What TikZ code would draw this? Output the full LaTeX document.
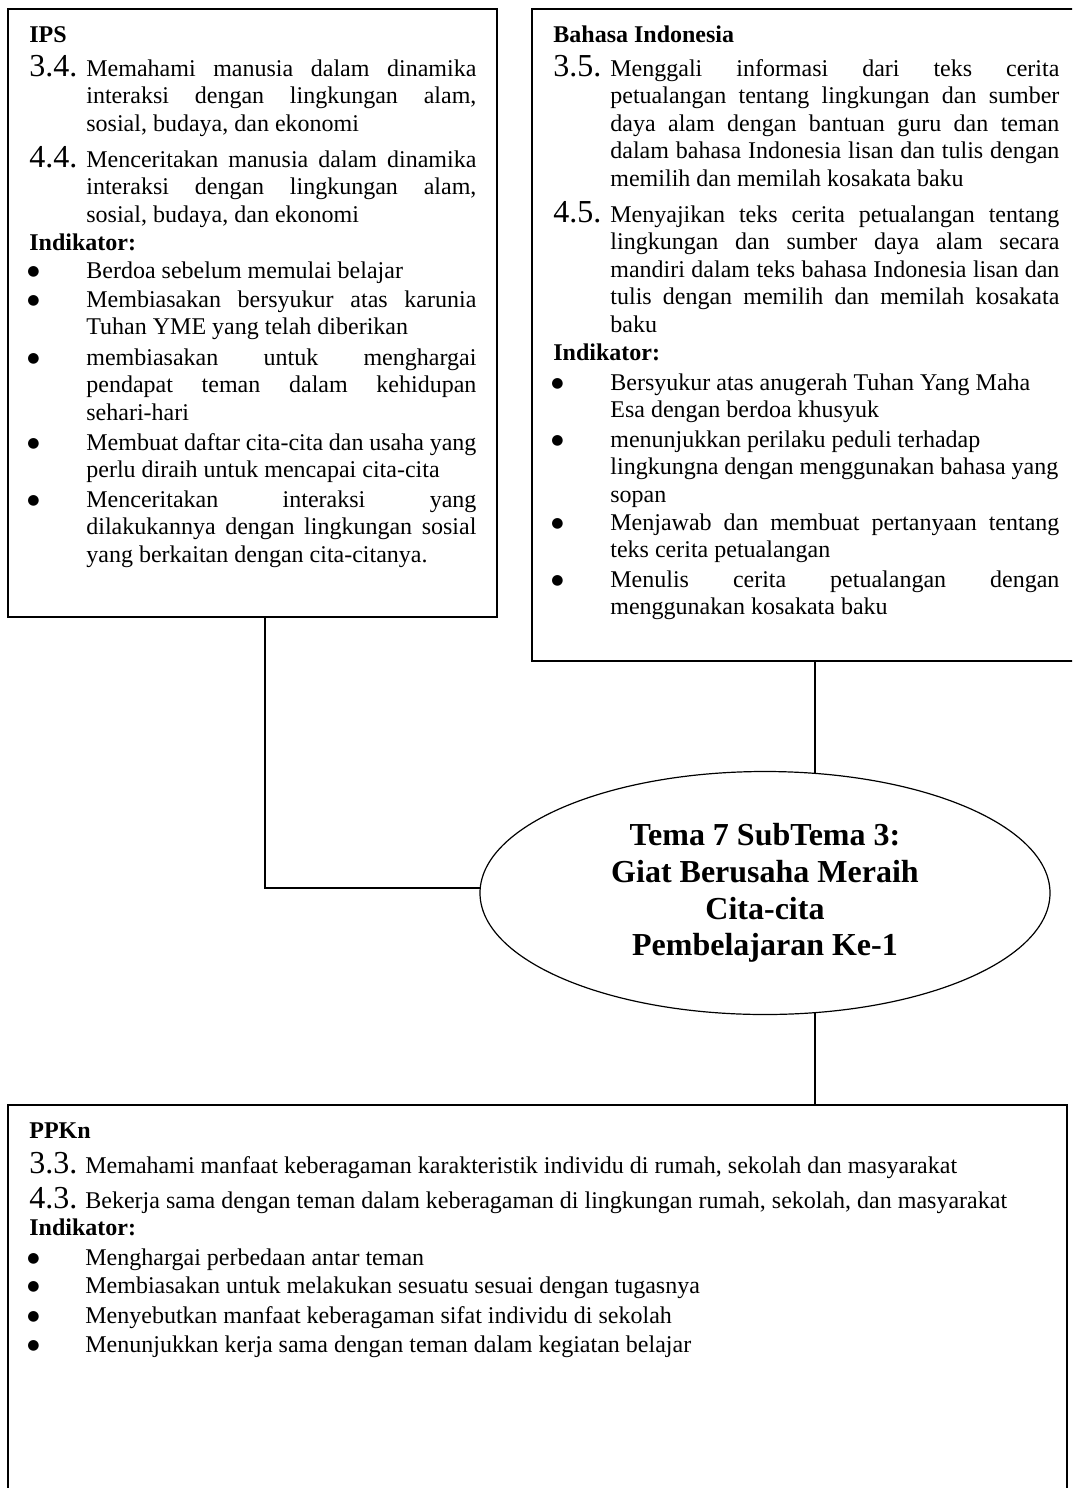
\documentclass[tikz,border=0pt]{standalone}
\usepackage{fontspec}
\setmainfont{Liberation Serif}
\newfontfamily\bulfont{DejaVu Sans}
\usetikzlibrary{shapes.geometric}
\begin{document}
\begin{tikzpicture}[x=0.5pt,y=-0.5pt,
  boxr/.style={draw, line width=1pt, rectangle, inner sep=0pt, outer sep=0pt},
  conn/.style={draw, line width=0.6pt},
  hd/.style={anchor=base west, inner sep=0pt, font=\fontsize{12}{13.75}\selectfont\bfseries},
  num/.style={anchor=base west, inner sep=0pt, font=\fontsize{16}{18.4}\selectfont},
  bul/.style={anchor=center, inner sep=0pt, font=\bulfont\fontsize{7}{7}\selectfont},
  plain/.style={anchor=base west, inner sep=0pt, font=\fontsize{12}{13.75}\selectfont},
  ptxtA/.style={anchor=base west, inner sep=0pt, text width=195pt, align=justify, font=\fontsize{12}{13.75}\selectfont},
  ptxtB/.style={anchor=base west, inner sep=0pt, text width=224.5pt, align=justify, font=\fontsize{12}{13.75}\selectfont}
]
\useasboundingbox (0,0) rectangle (1072,1488);
\clip (0,0) rectangle (1072,1488);

% boxes
\node[boxr, minimum width=244.5pt, minimum height=304pt] (ips) at (252.5,313) {};
\node[boxr, minimum width=274pt, minimum height=326pt] (bahasa) at (806,335) {};
\node[boxr, minimum width=529.5pt, minimum height=197.5pt] (ppkn) at (537.5,1302.5) {};

% central ellipse
\node[ellipse, draw, line width=0.6pt, minimum width=285pt, minimum height=121.5pt, inner sep=0pt,
      align=center, font=\fontsize{16}{18.4}\selectfont\bfseries] (tema) at (765,893)
  {Tema 7 SubTema 3:\\Giat Berusaha Meraih\\Cita-cita\\Pembelajaran Ke-1};

% connector helpers
\coordinate (ipsx) at (265,0);
\coordinate (cx) at (815,0);
\draw[conn] (ips.south -| ipsx) |- (tema.179);
\draw[conn] (bahasa.south -| cx) -- (cx |- tema.67.4);
\draw[conn] (cx |- tema.-67.4) -- (ppkn.north -| cx);

% IPS box content
\node[hd] (ipsh) at (29,42) {IPS};
\node[num] (ipsn1) at (29,76) {3.4.};
\node[ptxtA] (ipst1) at (86,76) {Memahami manusia dalam dinamika\linebreak interaksi dengan lingkungan alam,\linebreak sosial, budaya, dan ekonomi};
\node[num] (ipsn2) at (29,167) {4.4.};
\node[ptxtA] (ipst2) at (86,167) {Menceritakan manusia dalam dinamika\linebreak interaksi dengan lingkungan alam,\linebreak sosial, budaya, dan ekonomi};
\node[hd] (ipsind) at (29,250) {Indikator:};
\node[bul] (ipsb1) at (33.5,272) {●};
\node[ptxtA] (ipsi1) at (86,278) {Berdoa sebelum memulai belajar};
\node[bul] (ipsb2) at (33.5,301) {●};
\node[ptxtA] (ipsi2) at (86,307) {Membiasakan bersyukur atas karunia\linebreak Tuhan YME yang telah diberikan};
\node[bul] (ipsb3) at (33.5,359) {●};
\node[ptxtA] (ipsi3) at (86,365) {membiasakan untuk menghargai\linebreak pendapat teman dalam kehidupan\linebreak sehari-hari};
\node[bul] (ipsb4) at (33.5,444) {●};
\node[ptxtA] (ipsi4) at (86,450) {Membuat daftar cita-cita dan usaha yang\linebreak perlu diraih untuk mencapai cita-cita};
\node[bul] (ipsb5) at (33.5,501) {●};
\node[ptxtA] (ipsi5) at (86,507) {Menceritakan interaksi yang\linebreak dilakukannya dengan lingkungan sosial\linebreak yang berkaitan dengan cita-citanya.};

% Bahasa Indonesia box content
\node[hd] (bih) at (553,42) {Bahasa Indonesia};
\node[num] (bin1) at (553,76) {3.5.};
\node[ptxtB] (bit1) at (610,76) {Menggali informasi dari teks cerita\linebreak petualangan tentang lingkungan dan sumber\linebreak daya alam dengan bantuan guru dan teman\linebreak dalam bahasa Indonesia lisan dan tulis dengan\linebreak memilih dan memilah kosakata baku};
\node[num] (bin2) at (553,222) {4.5.};
\node[ptxtB] (bit2) at (610,222) {Menyajikan teks cerita petualangan tentang\linebreak lingkungan dan sumber daya alam secara\linebreak mandiri dalam teks bahasa Indonesia lisan dan\linebreak tulis dengan memilih dan memilah kosakata\linebreak baku};
\node[hd] (biind) at (553,360) {Indikator:};
\node[bul] (bib1) at (557.5,384) {●};
\node[ptxtB] (bii1) at (610,390) {Bersyukur atas anugerah Tuhan Yang Maha\\Esa dengan berdoa khusyuk};
\node[bul] (bib2) at (557.5,441) {●};
\node[ptxtB] (bii2) at (610,447) {menunjukkan perilaku peduli terhadap\\lingkungna dengan menggunakan bahasa yang\\sopan};
\node[bul] (bib3) at (557.5,524) {●};
\node[ptxtB] (bii3) at (610,530) {Menjawab dan membuat pertanyaan tentang\linebreak teks cerita petualangan};
\node[bul] (bib4) at (557.5,581) {●};
\node[ptxtB] (bii4) at (610,587) {Menulis cerita petualangan dengan\linebreak menggunakan kosakata baku};

% PPKn box content
\node[hd] (pph) at (29,1138) {PPKn};
\node[num] (ppn1) at (29,1173) {3.3.};
\node[plain] (ppt1) at (85,1173) {Memahami manfaat keberagaman karakteristik individu di rumah, sekolah dan masyarakat};
\node[num] (ppn2) at (29,1208) {4.3.};
\node[plain] (ppt2) at (85,1208) {Bekerja sama dengan teman dalam keberagaman di lingkungan rumah, sekolah, dan masyarakat};
\node[hd] (ppind) at (29,1235) {Indikator:};
\node[bul] (ppb1) at (33.5,1259) {●};
\node[plain] (ppi1) at (85,1265) {Menghargai perbedaan antar teman};
\node[bul] (ppb2) at (33.5,1287) {●};
\node[plain] (ppi2) at (85,1293) {Membiasakan untuk melakukan sesuatu sesuai dengan tugasnya};
\node[bul] (ppb3) at (33.5,1317) {●};
\node[plain] (ppi3) at (85,1323) {Menyebutkan manfaat keberagaman sifat individu di sekolah};
\node[bul] (ppb4) at (33.5,1346) {●};
\node[plain] (ppi4) at (85,1352) {Menunjukkan kerja sama dengan teman dalam kegiatan belajar};
\end{tikzpicture}
\end{document}
